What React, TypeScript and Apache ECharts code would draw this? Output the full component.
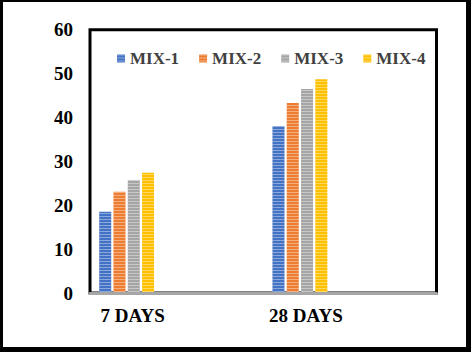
import React, { useEffect, useRef } from "react";
import * as echarts from "echarts";

const categories = ["7 DAYS", "28 DAYS"];
const seriesNames = ["MIX-1", "MIX-2", "MIX-3", "MIX-4"];
const mix1 = [18.5, 38.0];
const mix2 = [23.1, 43.3];
const mix3 = [25.7, 46.5];
const mix4 = [27.4, 48.7];
const seriesValues = [mix1, mix2, mix3, mix4];
const colors = ["#4472C4", "#ED7D31", "#A5A5A5", "#FFC000"];
const yTicks = { min: 0, max: 60, interval: 10 };
// empty slots kept by the original chart to the right of each cluster
const emptySlots = 7;

const FONT = "Liberation Serif";

export default function App() {
  const ref = useRef<HTMLDivElement>(null);
  useEffect(() => {
    if (!ref.current) return;
    const chart = echarts.init(ref.current, null, { renderer: "svg" });
    const stripe = {
      symbol: "rect",
      symbolSize: 1,
      color: "rgba(255,255,255,0.38)",
      dashArrayX: [1, 0],
      dashArrayY: [1, 2],
      rotation: 0,
    };
    const series: any[] = seriesValues.map((vals, i) => ({
      name: seriesNames[i],
      type: "bar",
      data: vals,
      barWidth: 12,
      barGap: "19%",
      itemStyle: { color: colors[i], decal: stripe },
    }));
    for (let k = 0; k < emptySlots; k++) {
      series.push({
        name: "_empty" + k,
        type: "bar",
        data: [],
        barWidth: 12,
        barGap: "19%",
        silent: true,
      });
    }
    chart.setOption({
      animation: false,
      backgroundColor: "#fff",
      color: colors,
      legend: {
        data: seriesNames,
        left: 112,
        top: 45,
        icon: "rect",
        itemWidth: 8,
        itemHeight: 8,
        itemGap: 20,
        textStyle: {
          fontFamily: FONT,
          fontWeight: "bold",
          fontSize: 17,
          color: "#404040",
        },
      },
      grid: {
        left: 90,
        top: 29.7,
        right: 34.5,
        bottom: 59,
        show: true,
        borderColor: "#000",
        borderWidth: 3,
        containLabel: false,
      },
      xAxis: {
        type: "category",
        data: categories,
        z: 5,
        axisLine: { lineStyle: { color: "#A6A6A6", width: 3 } },
        axisTick: { show: false },
        splitLine: { show: false },
        axisLabel: {
          fontFamily: FONT,
          fontWeight: "bold",
          fontSize: 19,
          color: "#000",
          margin: 13,
          padding: [0, 88, 0, 0],
        },
      },
      yAxis: {
        type: "value",
        min: yTicks.min,
        max: yTicks.max,
        interval: yTicks.interval,
        axisLine: { show: false },
        axisTick: { show: false },
        splitLine: { show: false },
        axisLabel: {
          fontFamily: FONT,
          fontWeight: "bold",
          fontSize: 19,
          color: "#000",
          margin: 17,
        },
      },
      series,
      graphic: [
        { type: "rect", shape: { x: 0, y: 0, width: 3, height: 352 }, style: { fill: "#000" }, z: 100 },
        { type: "rect", shape: { x: 0, y: 0, width: 471, height: 2 }, style: { fill: "#000" }, z: 100 },
        { type: "rect", shape: { x: 466, y: 0, width: 5, height: 352 }, style: { fill: "#000" }, z: 100 },
        { type: "rect", shape: { x: 0, y: 347, width: 471, height: 5 }, style: { fill: "#000" }, z: 100 },
      ],
    });
    return () => chart.dispose();
  }, []);
  return (
    <div
      ref={ref}
      style={{ position: "fixed", left: 0, top: 0, width: 471, height: 352 }}
    />
  );
}
